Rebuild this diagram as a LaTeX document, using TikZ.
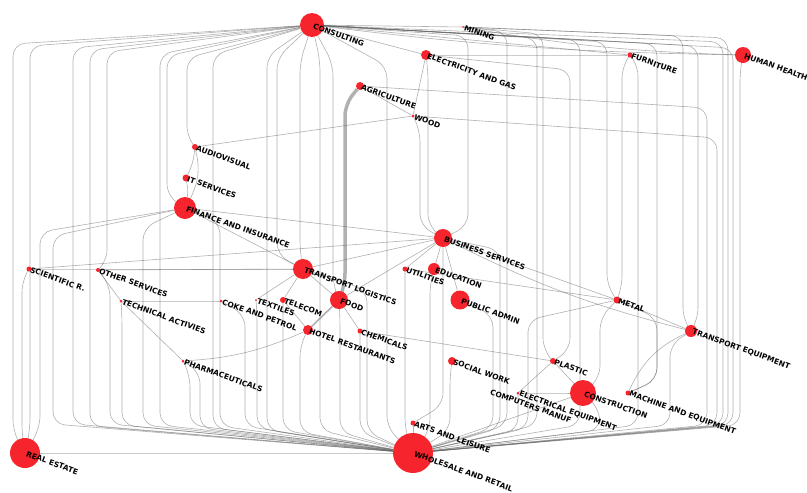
\documentclass[tikz,border=0pt]{standalone}
\usepackage{fontspec}
\usetikzlibrary{backgrounds}
\newfontfamily\tagfont{DejaVu Sans}
\definecolor{sectorred}{RGB}{246,36,44}
\definecolor{linkgray}{RGB}{100,100,100}

\begin{document}
\begin{tikzpicture}[x=1pt, y=-1pt,
    sector/.style={circle,fill=sectorred,inner sep=0pt,minimum size=#1},
    tag/.style={anchor=west,rotate=-20,inner sep=1.5pt,text=black,
      font=\tagfont\bfseries\fontsize{7.5}{8}\selectfont},
    link/.style={draw=linkgray,line width=0.6pt,opacity=0.5,rounded corners=12pt},
    heavy/.style={link,line width=3.5pt,opacity=0.5}]
  \useasboundingbox (0,0) rectangle (807,493);

  % sectors
  \foreach \n/\x/\y/\sz/\txt in {
      consulting/312/25/24/CONSULTING, mining/463/27/2/MINING,
      elec/426/55/10/ELECTRICITY AND GAS, furniture/630/55/5/FURNITURE,
      health/743/55/16/HUMAN HEALTH, agri/360/86/8/AGRICULTURE,
      wood/413/116/3/WOOD, audio/195/147/6/AUDIOVISUAL,
      itserv/186/178/7/IT SERVICES, finance/185/208/22/FINANCE AND INSURANCE,
      business/443/238/18/BUSINESS SERVICES, scientific/29/269/5/SCIENTIFIC R.,
      otherserv/98/270/4/OTHER SERVICES, transport/303/269/20/TRANSPORT LOGISTICS,
      utilities/405/269/5/UTILITIES, education/434/269/12/EDUCATION,
      technical/121/301/3/TECHNICAL ACTIVIES, coke/221/301/3/COKE AND PETROL,
      textiles/256/300/2/TEXTILES, telecom/283/300/6/TELECOM,
      food/339/300/18/FOOD, publicadmin/460/300/19/PUBLIC ADMIN,
      metal/617/300/7/METAL, hotel/308/330/10/HOTEL RESTAURANTS,
      chemicals/360/331/5/CHEMICALS, transpeq/691/331/12/TRANSPORT EQUIPMENT,
      pharma/183/361/3/PHARMACEUTICALS, social/452/361/8/SOCIAL WORK,
      plastic/553/361/6/PLASTIC, electrical/518/393/3/ELECTRICAL EQUIPMENT,
      computers/489/391/0/COMPUTERS MANUF, construction/583/393/26/CONSTRUCTION,
      machine/628/393/5/MACHINE AND EQUIPMENT, arts/413/423/5/ARTS AND LEISURE,
      wholesale/413/453/40/WHOLESALE AND RETAIL, realestate/25/453/30/REAL ESTATE} {
    \node[sector=\sz pt] (\n) at (\x,\y) {};
    \node[tag] at (\n.center) {\txt};
  }

  \begin{scope}[on background layer]
    \fill[white] (0,0) rectangle (807,493);
    % bundled links: source / lane x / turn y / end y / target
    \foreach \src/\lx/\ya/\yb/\dst in {
        consulting/13/44/432/realestate, consulting/30/46/430/realestate,
        consulting/73/48/424/wholesale, consulting/90/50/426/wholesale,
        consulting/107/52/262/otherserv, consulting/160/54/425/wholesale,
        consulting/167/56/196/finance, consulting/187/58/138/audio,
        consulting/213/55/428/wholesale, consulting/267/56/430/wholesale,
        consulting/277/58/255/transport, consulting/300/62/252/transport,
        consulting/320/60/430/wholesale, consulting/333/64/285/food,
        consulting/387/66/428/wholesale,
        finance/40/232/428/realestate, finance/53/236/424/wholesale,
        finance/143/228/425/wholesale, finance/220/222/426/wholesale,
        scientific/22/280/435/realestate, otherserv/110/285/424/wholesale,
        technical/122/315/425/wholesale, pharma/190/375/425/wholesale,
        pharma/200/372/428/wholesale, coke/245/315/426/wholesale,
        textiles/257/312/428/wholesale, telecom/283/315/430/wholesale,
        hotel/300/345/432/wholesale, food/340/318/432/wholesale,
        chemicals/360/345/432/wholesale, transport/367/290/432/wholesale,
        consulting/468/36/226/business, mining/507/32/425/wholesale,
        consulting/537/38/425/wholesale, mining/543/34/350/plastic,
        elec/570/70/350/plastic, consulting/580/40/425/wholesale,
        consulting/607/42/286/metal, furniture/622/66/288/metal,
        furniture/638/64/425/wholesale, consulting/657/44/380/machine,
        mining/683/36/320/transpeq, consulting/698/46/320/transpeq,
        agri/707/108/425/wholesale, wood/717/138/425/wholesale,
        consulting/723/42/425/wholesale, mining/728/38/425/wholesale,
        consulting/733/48/425/wholesale, health/740/70/425/wholesale,
        metal/600/318/378/construction, metal/657/318/380/machine,
        metal/528/320/428/wholesale, publicadmin/493/315/428/wholesale,
        business/500/250/428/wholesale, electrical/518/405/430/wholesale,
        transpeq/670/345/425/wholesale, construction/600/410/430/wholesale,
        social/450/375/430/wholesale, business/443/252/405/arts,
        education/430/283/430/wholesale, utilities/405/283/430/wholesale,
        elec/428/70/226/business, wood/420/130/226/business} {
      \draw[link] (\src) -- (\lx,\ya) -- (\lx,\yb) -- (\dst);
    }
    % direct links
    \foreach \src/\dst/\bend in {
        consulting/mining/0, mining/health/-4, consulting/health/-3,
        consulting/elec/0, consulting/furniture/0, elec/furniture/0,
        elec/wood/0, agri/wood/0, audio/wood/0, audio/itserv/10,
        itserv/finance/10, audio/finance/20, finance/business/0,
        finance/transport/0, scientific/business/0, scientific/transport/0,
        otherserv/transport/0, otherserv/technical/0, technical/pharma/0,
        coke/technical/0, hotel/pharma/10, transport/business/0,
        transport/food/0, telecom/transport/0, textiles/transport/0,
        telecom/hotel/0, utilities/metal/0, education/business/0,
        utilities/business/0, publicadmin/business/0, business/metal/0,
        business/transpeq/-6, metal/transpeq/0, chemicals/plastic/0,
        plastic/construction/0, plastic/electrical/0,
        electrical/construction/0, arts/wholesale/0,
        realestate/wholesale/0, construction/wholesale/0,
        food/chemicals/0, food/business/0, machine/transpeq/20} {
      \draw[link] (\src) to[bend left=\bend] (\dst);
    }
    \draw[heavy] (agri) -- (345,104) -- (345,285) -- (food);
    \draw[link,line width=1.6pt] (food) -- (hotel);
  \end{scope}
\end{tikzpicture}
\end{document}
